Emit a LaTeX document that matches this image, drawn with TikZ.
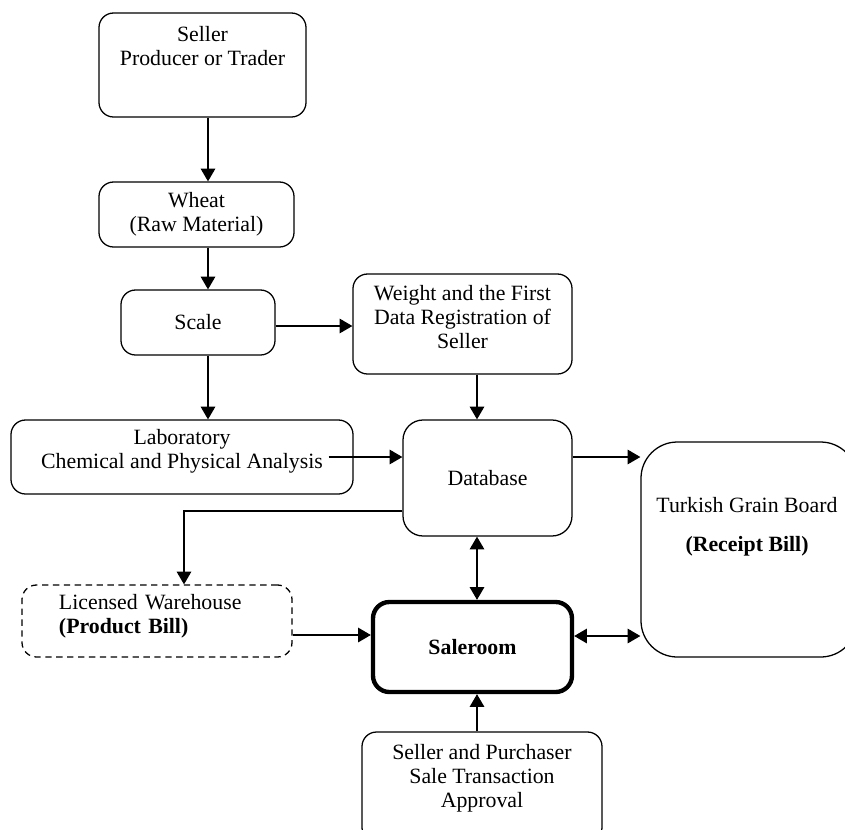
\documentclass[tikz,border=0pt]{standalone}
\usepackage{fontspec}
\setmainfont{Liberation Serif}
\usetikzlibrary{arrows.meta,calc,positioning}
\newcommand{\pxu}{0.55pt}

\begin{document}
\begin{tikzpicture}[x=0.55pt,y=-0.55pt,
    font=\fontsize{12}{13.2}\selectfont,
    box/.style={draw, line width=0.7pt, rounded corners=8pt, align=center, inner sep=0pt},
    wh/.style 2 args={minimum width=#1*\pxu, minimum height=#2*\pxu},
    arr/.style={line width=0.7pt, -{Triangle[length=7pt,width=8pt]}},
    darr/.style={line width=0.7pt, {Triangle[length=7pt,width=8pt]}-{Triangle[length=7pt,width=8pt]}}]
            \useasboundingbox (0,0) rectangle (845,830);
            \clip (0,0) rectangle (845,830);

            \node[box, wh={207}{104}, label={[align=center, below=3.9pt]north:Seller\\Producer or Trader}] (seller) at (202.5,65) {};
            \node[box, wh={195}{65}] (wheat) at (196.5,214.5) {Wheat\\(Raw Material)};
            \node[box, wh={154}{65}] (scale) at (198,322.5) {Scale};
            \node[box, wh={219}{100}, label={[align=center, yshift=3.9pt]center:Weight and the First\\Data Registration of\\Seller}] (weight) at (462.5,324) {};
            \node[box, wh={342}{74}, label={[align=center, yshift=3.3pt]center:Laboratory\\Chemical and Physical Analysis}] (lab) at (182,457) {};
            \node[box, wh={169}{116}, rounded corners=11pt] (db) at (487.5,478) {Database};
            \node[box, wh={216}{215}, rounded corners=20pt, label={[align=center, xshift=-2*\pxu, below=27pt]north:Turkish Grain Board\\[8.3pt]\textbf{(Receipt Bill)}}] (tgb) at (749,549.5) {};
            \node[box, dash pattern=on 3.5pt off 2.5pt, wh={270}{72}, label={[align=left, text width=196*\pxu, yshift=2.8pt]center:Licensed Warehouse\\\textbf{(Product Bill)}}] (ware) at (157,621) {};
            \node[box, line width=2.4pt, wh={199}{90}, rounded corners=9pt] (sale) at (472.5,647) {\textbf{Saleroom}};
            \node[box, wh={240}{110}, label={[align=center, below=3.8pt]north:Seller and Purchaser\\Sale Transaction\\Approval}] (approval) at (482,787) {};

            \coordinate (spine) at (208,0);
            \coordinate (trunk) at (477,0);
            \coordinate (drop) at (184,0);
            \coordinate (sw) at ($(scale.east)+(0,3.5)$);
            \coordinate (labout) at ($(lab.east)+(-25,0)$);
            \coordinate (dbout) at ($(db.west)+(0,33)$);
            \coordinate (wareout) at ($(ware.east)+(0,14)$);
            \coordinate (dbright) at ($(db.east)+(0,-21)$);
            \coordinate (saleright) at ($(sale.east)+(0,-11)$);

            \draw[arr] (seller.south -| spine) -- (wheat.north -| spine);
            \draw[arr] (wheat.south -| spine) -- (scale.north -| spine);
            \draw[arr] (scale.south -| spine) -- (lab.north -| spine);
            \draw[arr] (sw) -- (sw -| weight.west);
            \draw[arr] (weight.south -| trunk) -- (db.north -| trunk);
            \draw[arr] (labout) -- (labout -| db.west);
            \draw[arr] (dbout) -| (ware.north -| drop);
            \draw[arr] (wareout) -- (wareout -| sale.west);
            \draw[darr] (db.south -| trunk) -- (sale.north -| trunk);
            \draw[arr] (dbright) -- (dbright -| tgb.west);
            \draw[darr] (saleright) -- (saleright -| tgb.west);
            \draw[arr] (approval.north -| trunk) -- (sale.south -| trunk);
        \end{tikzpicture}
\end{document}
